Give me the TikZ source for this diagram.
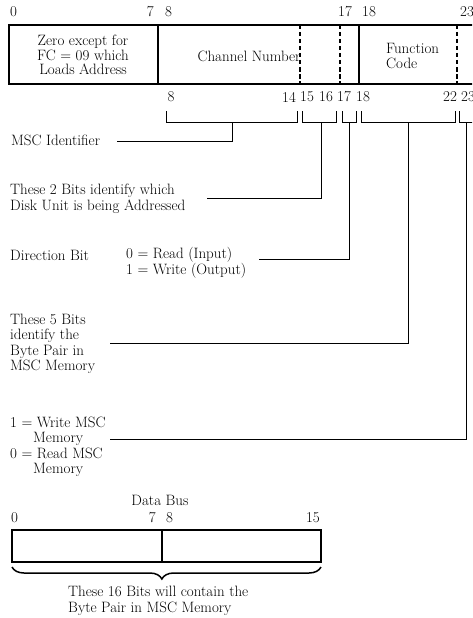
\documentclass[tikz,border=0pt]{standalone}
\usetikzlibrary{decorations.pathreplacing}
\begin{document}
\begin{tikzpicture}[x=1pt,y=-1pt,
  txt/.style={inner sep=0pt, font=\fontsize{15}{15.5}\selectfont},
  stack/.style={txt, align=left},
  cstack/.style={txt, align=center, font=\fontsize{15}{14.5}\selectfont},
  frame/.style={line width=1.1pt},
  dashfield/.style={line width=1.1pt, dash pattern=on 4.5pt off 2.5pt},
  bracket/.style={line width=0.9pt},
  lead/.style={line width=0.9pt},
  bigbrace/.style={line width=1.5pt, decorate,
    decoration={brace, mirror, amplitude=12pt, aspect=0.485}}
]
\clip (0,0) rectangle (472,618);

% ---------- top register ----------
\node[txt, anchor=west] (t0) at (10,12) {0};
\node[txt, anchor=east] (t7) at (154,12) {7};
\node[txt, anchor=west] (t8) at (165,12) {8};
\node[txt] (t17) at (345,12) {17};
\node[txt] (t18) at (369,12) {18};
\node[txt, anchor=west] (t23) at (460,12) {23};

\draw[frame] (480,25) -- (9,25) -- (9,84) -- (480,84);
\draw[frame] (158,25) -- (158,84);
\draw[frame] (359,25) -- (359,84);
\draw[dashfield] (300,25) -- (300,84);
\draw[dashfield] (340,25) -- (340,84);
\draw[dashfield] (457,25) -- (457,84);

\node[cstack] (zero) at (83,55) {Zero except for\\FC = 09 which\\Loads Address};
\node[txt] (chan) at (249,56) {Channel Number};
\node[stack, anchor=west, font=\fontsize{15}{14.5}\selectfont] (func) at (386,56) {Function\\Code};

\node[txt] (b8) at (171,97) {8};
\node[txt] (b14) at (289,97) {14};
\node[txt] (b15) at (307,97) {15};
\node[txt] (b16) at (326,97) {16};
\node[txt] (b17) at (344,97) {17};
\node[txt] (b18) at (363,97) {18};
\node[txt] (b22) at (450,97) {22};
\node[txt, anchor=west] (b23) at (461,97) {23};

% ---------- brackets ----------
\draw[bracket] (166,111) -- (166,122) -- (297,122) -- (297,111);
\draw[bracket] (302,111) -- (302,122) -- (336,122) -- (336,111);
\draw[bracket] (342,111) -- (342,122) -- (356,122) -- (356,111);
\draw[bracket] (361,111) -- (361,122) -- (455,122) -- (455,111);
\draw[bracket] (459,111) -- (459,122) -- (480,122);

\coordinate (s1) at (232,122);
\coordinate (s2) at (321,122);
\coordinate (s3) at (349,122);
\coordinate (s4) at (408,122);
\coordinate (s5) at (466,122);
\coordinate (e1) at (117,141);
\coordinate (e2) at (207,198);
\coordinate (e3) at (259,259);
\coordinate (e4) at (110,343);
\coordinate (e5) at (110,439);

\draw[lead] (s1) |- (e1);
\draw[lead] (s2) |- (e2);
\draw[lead] (s3) |- (e3);
\draw[lead] (s4) |- (e4);
\draw[lead] (s5) |- (e5);

% ---------- labels ----------
\node[txt, anchor=west] (msc) at (11,140) {MSC Identifier};
\node[stack, anchor=west] (two) at (10,199) {These 2 Bits identify which\\Disk Unit is being Addressed};
\node[txt, anchor=west] (dir) at (10,255) {Direction Bit};
\node[stack, anchor=west] (rw) at (126,263) {0 = Read (Input)\\1 = Write (Output)};
\node[stack, anchor=west] (five) at (10,344) {These 5 Bits\\identify the\\Byte Pair in\\MSC Memory};
\node[stack, anchor=west] (wm) at (10,447) {1 = Write MSC\\\hspace*{23pt}Memory\\0 = Read MSC\\\hspace*{23pt}Memory};

% ---------- data bus ----------
\node[txt] (db) at (160,500) {Data Bus};
\node[txt, anchor=west] (d0) at (11,518) {0};
\node[txt, anchor=east] (d7) at (156,518) {7};
\node[txt, anchor=west] (d8) at (166,518) {8};
\node[txt, anchor=east] (d15) at (320,518) {15};
\draw[frame] (12,530) rectangle (321,562);
\draw[frame] (162,530) -- (162,562);
\coordinate (brl) at (12,567);
\coordinate (brr) at (321,567);
\draw[bigbrace] (brl) -- (brr);
\node[stack, anchor=west] (sixteen) at (68,601) {These 16 Bits will contain the\\Byte Pair in MSC Memory};
\end{tikzpicture}
\end{document}
